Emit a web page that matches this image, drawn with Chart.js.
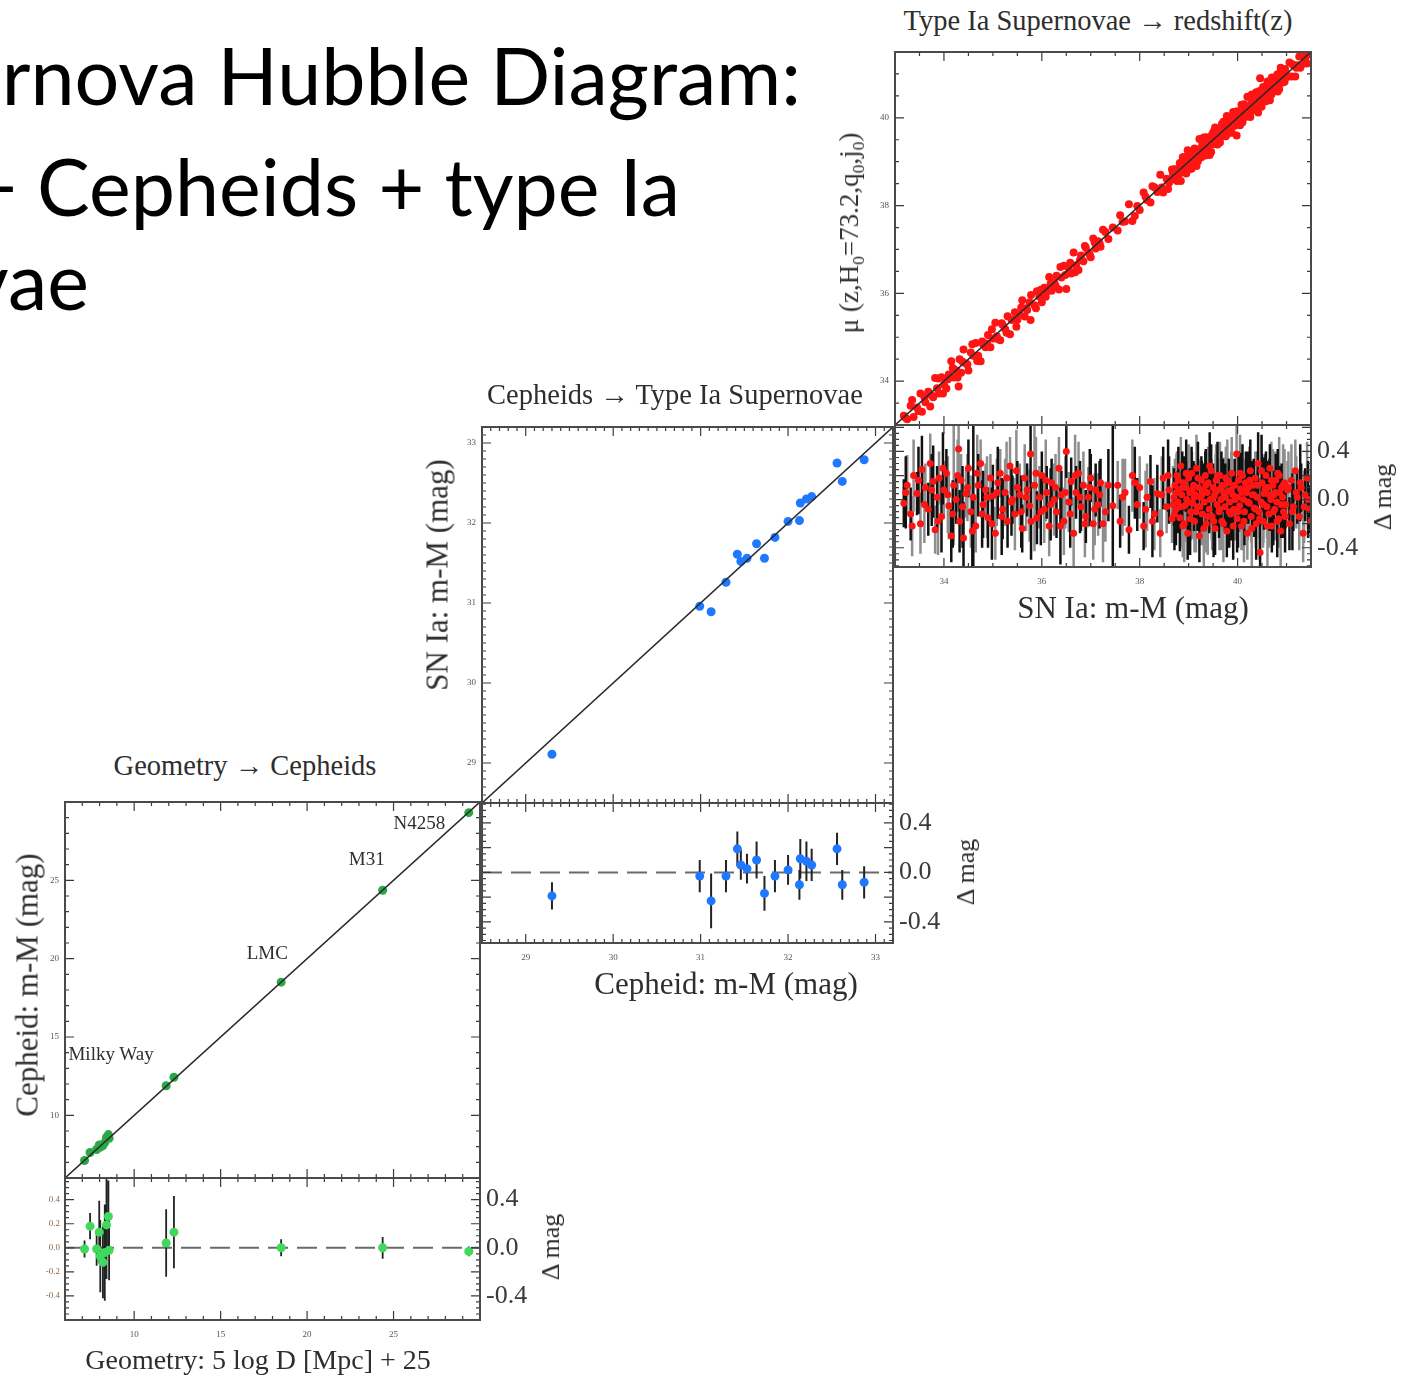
<!DOCTYPE html>
<html>
<head>
<meta charset="utf-8">
<script src="https://cdn.jsdelivr.net/npm/chart.js@4.4.0/dist/chart.umd.min.js"></script>
<style>
  html, body { margin: 0; padding: 0; background: #fff; }
  #page { position: relative; width: 1406px; height: 1376px; overflow: hidden; background: #fff; }
  .slide { position: absolute; font-family: Lato, 'Open Sans', sans-serif; font-size: 79px; color: #000; white-space: nowrap; line-height: 1; }
  .t { position: absolute; font-family: 'Liberation Serif', serif; color: #2e2e2e; white-space: nowrap; line-height: 1; transform: translate(-50%, -50%); }
  .t.rot { transform: translate(-50%, -50%) rotate(-90deg); }
  .t.left { transform: translate(0, -50%); }
  canvas { position: absolute; }
</style>
</head>
<body>
<div id="page">
  <div class="slide" style="left:-40px;top:35px;">ernova Hubble Diagram:</div>
  <div class="slide" style="left:-29px;top:146px;">+ Cepheids + type Ia</div>
  <div class="slide" style="left:-32px;top:240px;">vae</div>
</div>
<script>
// ---------- data ----------

// Type Ia supernovae: [m-M (mag), residual (mag), error (mag)]
var snPoints = [
  [33.18,-0.03,.20],[33.25,0.12,.25],[33.32,-0.12,.22],[33.38,0.20,.30],[33.45,0.05,.18],
  [33.52,-0.20,.25],[33.55,0.25,.28],[33.62,0.10,.20],[33.68,-0.08,.22],[33.72,0.30,.25],
  [33.78,0.15,.30],[33.82,-0.25,.20],[33.86,0.02,.26],[33.90,0.18,.22],[33.95,-0.14,.30],
  [34.00,0.08,.24],[34.05,0.22,.20],[34.10,-0.05,.28],[34.15,-0.30,.22],[34.20,0.12,.50],
  [34.25,0.00,.20],[34.30,0.42,.20],[34.32,-0.18,.26],[34.35,0.16,.22],[34.40,-0.32,.30],
  [34.45,0.05,.20],[34.50,0.26,.24],[34.55,-0.10,.30],[34.60,0.02,.60],[34.65,-0.22,.22],
  [34.70,0.12,.26],[34.75,0.30,.20],[34.80,-0.04,.28],[34.85,0.08,.22],[34.90,-0.15,.25],
  [34.95,0.18,.20],[35.00,0.03,.26],[35.05,-0.28,.22],[35.10,0.14,.30],[35.15,0.22,.20],
  [35.20,-0.08,.25],[35.25,0.06,.28],[35.30,-0.18,.22],[35.35,0.28,.24],[35.40,0.00,.20],
  [35.45,-0.12,.30],[35.50,0.10,.22],[35.55,0.04,.26],[35.60,-0.24,.20],[35.65,0.18,.28],
  [35.70,0.08,.22],[35.75,-0.05,.30],[35.77,0.38,.24],[35.85,0.12,.55],[35.90,-0.15,.22],
  [35.95,0.02,.26],[36.00,0.20,.20],[36.05,-0.08,.28],[36.10,0.06,.22],[36.15,-0.22,.25],
  [36.20,0.14,.20],[36.25,0.00,.30],[36.30,-0.10,.22],[36.35,0.26,.26],[36.40,0.04,.20],
  [36.45,-0.18,.28],[36.50,0.40,.22],[36.55,-0.02,.25],[36.60,0.15,.20],[36.65,-0.28,.30],
  [36.70,0.06,.22],[36.75,0.22,.26],[36.80,-0.06,.20],[36.85,0.12,.28],[36.90,-0.14,.22],
  [36.95,0.02,.25],[37.00,0.18,.20],[37.05,-0.20,.30],[37.10,0.08,.22],[37.15,-0.04,.26],
  [37.20,0.14,.20],[37.30,-0.10,.25],[37.45,-0.05,.80],[37.55,0.12,.20],[37.60,-0.18,.22],
  [37.70,0.06,.28],[37.78,-0.25,.20],[37.85,0.20,.30],[37.95,-0.04,.22],[38.00,0.10,.26],
  [38.08,-0.22,.20],[38.15,0.02,.28],[38.22,0.15,.22],[38.30,-0.12,.30],[38.36,0.05,.24],
  [38.42,-0.28,.20],[38.48,0.18,.26],[38.55,-0.06,.22],[38.60,0.08,.28],[38.66,-0.16,.20],
  [38.70,0.02,.24],[38.72,0.12,.22],[38.74,-0.08,.30],[38.76,0.20,.20],[38.78,-0.02,.26],
  [38.80,0.08,.22],[38.82,-0.15,.28],[38.84,0.28,.24],[38.86,0.04,.20],[38.88,-0.22,.26],
  [38.90,0.14,.22],[38.92,-0.05,.30],[38.94,0.10,.20],[38.96,0.00,.25],[38.98,-0.28,.22],
  [39.00,0.18,.28],[39.02,0.06,.20],[39.04,-0.10,.24],[39.06,0.22,.22],[39.08,-0.03,.30],
  [39.10,0.12,.20],[39.12,-0.18,.26],[39.14,0.04,.22],[39.16,0.26,.28],[39.18,-0.06,.20],
  [39.20,0.10,.24],[39.22,-0.30,.22],[39.24,0.02,.30],[39.26,0.16,.20],[39.28,-0.12,.26],
  [39.30,0.08,.22],[39.32,-0.02,.28],[39.34,0.20,.20],[39.36,-0.20,.24],[39.38,0.06,.22],
  [39.40,0.14,.30],[39.42,-0.08,.20],[39.44,0.00,.26],[39.46,0.24,.22],[39.48,-0.14,.28],
  [39.50,0.10,.20],[39.52,0.03,.24],[39.54,-0.24,.22],[39.56,0.16,.30],[39.58,-0.04,.20],
  [39.60,0.08,.26],[39.62,-0.10,.22],[39.64,0.20,.28],[39.66,0.00,.20],[39.68,-0.18,.24],
  [39.70,0.12,.22],[39.72,0.05,.30],[39.74,-0.06,.20],[39.76,0.18,.26],[39.78,-0.26,.22],
  [39.80,0.07,.28],[39.82,0.14,.20],[39.84,-0.02,.24],[39.86,-0.12,.22],[39.88,0.22,.30],
  [39.90,0.04,.20],[39.92,-0.08,.26],[39.94,0.12,.22],[39.98,0.38,.60],[39.99,-0.16,.28],
  [40.00,0.02,.20],[40.02,0.16,.24],[40.04,-0.05,.22],[40.06,0.09,.30],[40.08,-0.22,.20],
  [40.10,0.20,.26],[40.12,0.00,.22],[40.14,-0.10,.28],[40.16,0.14,.20],[40.18,0.06,.24],
  [40.20,-0.28,.22],[40.22,0.10,.30],[40.24,-0.03,.20],[40.26,0.24,.26],[40.28,-0.14,.22],
  [40.30,0.04,.28],[40.32,0.12,.20],[40.34,-0.07,.24],[40.36,0.18,.22],[40.38,-0.20,.30],
  [40.40,0.02,.20],[40.42,0.30,.26],[40.44,-0.10,.22],[40.46,-0.44,.32],[40.48,-0.02,.20],
  [40.50,0.14,.24],[40.52,-0.18,.22],[40.54,0.05,.30],[40.56,0.08,.28],[40.58,0.20,.20],
  [40.60,-0.06,.26],[40.62,0.10,.22],[40.64,-0.12,.28],[40.66,0.26,.20],[40.68,0.00,.24],
  [40.70,-0.22,.22],[40.72,0.12,.30],[40.74,0.04,.20],[40.76,-0.08,.26],[40.78,0.16,.22],
  [40.80,-0.02,.28],[40.82,0.22,.20],[40.84,-0.16,.24],[40.86,0.06,.22],[40.88,-0.26,.30],
  [40.90,0.10,.20],[40.92,0.02,.26],[40.94,-0.10,.22],[40.96,0.14,.28],[40.98,-0.04,.20],
  [41.02,0.08,.24],[41.06,-0.20,.22],[41.10,0.16,.30],[41.14,-0.06,.20],[41.18,0.24,.26],
  [41.22,0.02,.22],[41.26,-0.14,.28],[41.30,0.10,.20],[41.34,-0.28,.24],[41.38,0.04,.22],
  [41.42,0.18,.30],[41.46,-0.08,.20],[41.50,-0.18,.26],
  [33.22,0.06,.30],[33.35,-0.22,.25],[33.48,0.16,.28],[33.60,-0.04,.32],[33.75,0.08,.30],
  [33.88,-0.18,.28],[33.98,0.26,.30],[34.08,0.04,.32],[34.18,-0.12,.28],[34.28,0.20,.30],
  [34.38,-0.06,.34],[34.48,0.10,.28],[34.58,-0.26,.30],[34.68,0.22,.32],[34.78,-0.12,.28],
  [34.88,0.02,.34],[34.98,-0.20,.30],[35.08,0.06,.28],[35.18,-0.14,.32],[35.28,0.18,.30],
  [35.38,-0.02,.28],[35.48,0.24,.34],[35.58,-0.10,.30],[35.68,0.02,.28],[35.78,-0.18,.32],
  [35.88,0.22,.30],[35.98,-0.10,.28],[36.08,0.16,.34],[36.18,-0.04,.30],[36.28,0.10,.28],
  [36.38,-0.22,.32],[36.48,0.06,.30],[36.58,-0.12,.28],[36.68,0.20,.34],[36.78,0.02,.30],
  [36.88,-0.20,.28],[36.98,0.10,.32],[37.08,-0.08,.30],[37.18,0.04,.28],[37.25,-0.20,.32],
  [37.36,0.12,.30],[37.65,0.02,.32],[37.90,0.14,.30],[38.12,-0.08,.32],[38.26,-0.18,.30],
  [38.45,0.04,.32],[38.58,0.20,.30],[38.68,-0.04,.32],
  [38.71,-0.12,.30],[38.75,0.06,.32],[38.79,0.16,.28],[38.83,-0.06,.34],[38.87,0.10,.30],
  [38.91,-0.20,.32],[38.95,0.22,.28],[38.99,-0.02,.34],[39.03,-0.16,.30],[39.07,0.08,.32],
  [39.11,0.02,.28],[39.15,-0.10,.34],[39.19,0.18,.30],[39.23,-0.06,.32],[39.27,0.04,.28],
  [39.31,-0.24,.34],[39.35,0.12,.30],[39.39,-0.14,.32],[39.43,0.28,.28],[39.47,0.00,.34],
  [39.51,-0.18,.30],[39.55,0.06,.32],[39.59,0.20,.28],[39.63,-0.08,.34],[39.67,0.10,.30],
  [39.71,-0.20,.32],[39.75,0.02,.28],[39.79,0.16,.34],[39.83,-0.10,.30],[39.87,0.08,.32],
  [39.91,-0.22,.28],[39.95,0.00,.34],[40.01,-0.10,.30],[40.05,0.22,.32],[40.09,0.06,.28],
  [40.13,-0.18,.34],[40.17,0.10,.30],[40.21,-0.02,.32],[40.25,0.16,.28],[40.29,-0.24,.34],
  [40.33,0.04,.30],[40.37,-0.08,.32],[40.41,0.12,.28],[40.45,-0.16,.34],[40.49,0.24,.30],
  [40.53,-0.04,.32],[40.57,0.10,.28],[40.61,-0.22,.34],[40.65,0.04,.30],[40.69,0.16,.32],
  [40.73,-0.10,.28],[40.77,0.06,.34],[40.81,-0.18,.30],[40.85,0.20,.32],[40.89,-0.04,.28],
  [40.93,0.12,.34],[40.97,-0.14,.30],
  [41.04,0.10,.30],[41.12,-0.10,.32],[41.20,0.06,.30],[41.28,0.14,.32],[41.36,-0.06,.30],
  [41.44,0.00,.32]
];
var snRange = [33, 41.5];
var snTicks = [34, 36, 38, 40];

// Cepheid distances -> SN Ia distances
var cephMag   = [29.30, 30.99, 31.12, 31.29, 31.42, 31.46, 31.53, 31.64, 31.73, 31.85, 32.00, 32.13, 32.14, 32.21, 32.27, 32.56, 32.62, 32.87];
var cephDelta = [-0.19, -0.03, -0.23, -0.03, 0.19, 0.06, 0.03, 0.10, -0.17, -0.03, 0.02, -0.10, 0.11, 0.09, 0.06, 0.19, -0.10, -0.08];
var cephErr   = [0.11, 0.13, 0.22, 0.13, 0.14, 0.12, 0.12, 0.15, 0.14, 0.13, 0.12, 0.12, 0.16, 0.16, 0.13, 0.13, 0.12, 0.13];
var cephRange = [28.5, 33.2];
var cephTicks = [29, 30, 31, 32, 33];

// Geometric distances -> Cepheid distances
var geoMag   = [7.13, 7.45, 7.83, 7.98, 8.04, 8.19, 8.30, 8.40, 8.51, 8.55, 11.85, 12.30, 18.50, 24.37, 29.35];
var geoDelta = [-0.01, 0.18, -0.01, 0.13, -0.07, -0.12, -0.04, 0.19, 0.26, -0.02, 0.04, 0.13, 0.00, 0.00, -0.03];
var geoErr   = [0.07, 0.11, 0.14, 0.26, 0.30, 0.30, 0.40, 0.45, 0.30, 0.25, 0.28, 0.30, 0.07, 0.09, 0.04];
var geoRange = [6, 30];
var geoTicks = [10, 15, 20, 25];
var geoNames = ['N4258', 'M31', 'LMC', 'Milky Way'];
var geoNameX = [26.5, 23.45, 17.7, 6.2];
var geoNameY = [28.7, 26.4, 20.4, 14.0];

var residTicks = [-0.4, 0.0, 0.4];
var residTicksFine = [-0.4, -0.2, 0.0, 0.2, 0.4];
var snResidRange = [-0.56, 0.62];
var cephResidRange = [-0.57, 0.56];
var geoResidRange = [-0.6, 0.58];

// ---------- helpers ----------
var page = document.getElementById('page');
var SERIF = "'Liberation Serif', serif";

function label(html, cx, cy, size, cls) {
  var d = document.createElement('div');
  d.className = 't' + (cls ? ' ' + cls : '');
  d.style.left = cx + 'px';
  d.style.top = cy + 'px';
  d.style.fontSize = size + 'px';
  d.innerHTML = html;
  page.appendChild(d);
  return d;
}

function errorBars(xs, ys, es) {
  var out = [];
  for (var i = 0; i < xs.length; i++) {
    out.push({ x: xs[i], y: ys[i] - es[i] }, { x: xs[i], y: ys[i] + es[i] }, { x: xs[i], y: null });
  }
  return out;
}

function fixed(list) {
  return function (s) { s.ticks = list.map(function (v) { return { value: v }; }); };
}

// axis box sizes are pinned so each plot frame lands where the original has it
function pin(size, horiz) {
  return function (s) {
    if (size !== null) { if (horiz) s.height = size; else s.width = size; }
    s.paddingTop = s.paddingBottom = s.paddingLeft = s.paddingRight = 0;
  };
}

// inward ticks on all four sides plus the box
var framePlugin = {
  id: 'frame',
  afterDatasetsDraw: function (chart, args, o) {
    var ctx = chart.ctx, a = chart.chartArea, x = chart.scales.x, y = chart.scales.y;
    ctx.save();
    ctx.strokeStyle = '#3a3a3a';
    ctx.lineWidth = 1.2;
    ctx.beginPath();
    function run(scale, minor, major, horiz) {
      var n0 = Math.ceil(scale.min / minor - 1e-6), n1 = Math.floor(scale.max / minor + 1e-6);
      for (var n = n0; n <= n1; n++) {
        var v = n * minor;
        var r = v / major;
        var len = Math.abs(r - Math.round(r)) < 1e-6 ? 9 : 4;
        var p = scale.getPixelForValue(v);
        if (horiz) {
          ctx.moveTo(p, a.top); ctx.lineTo(p, a.top + len);
          ctx.moveTo(p, a.bottom); ctx.lineTo(p, a.bottom - len);
        } else {
          ctx.moveTo(a.left, p); ctx.lineTo(a.left + len, p);
          ctx.moveTo(a.right, p); ctx.lineTo(a.right - len, p);
        }
      }
    }
    run(x, o.xMinor, o.xMajor, true);
    run(y, o.yMinor, o.yMajor, false);
    ctx.stroke();
    ctx.lineWidth = 2;
    ctx.strokeStyle = '#4a4a4a';
    ctx.strokeRect(a.left, a.top, a.right - a.left, a.bottom - a.top);
    ctx.restore();
  }
};

function panel(p) {
  var c = document.createElement('canvas');
  var w = p.box[2] - p.box[0] + p.pad[0] + p.pad[2];
  var h = p.box[3] - p.box[1] + p.pad[1] + p.pad[3];
  c.width = w; c.height = h;
  c.style.width = w + 'px'; c.style.height = h + 'px';
  c.style.left = (p.box[0] - p.pad[0]) + 'px';
  c.style.top = (p.box[1] - p.pad[1]) + 'px';
  page.appendChild(c);

  var tiny = { family: SERIF, size: 9 };
  var scales = {
    x: {
      type: 'linear', min: p.xRange[0], max: p.xRange[1], display: !!p.xTicks, position: 'bottom',
      grid: { display: false, drawTicks: false }, border: { display: false },
      ticks: { font: tiny, color: '#555', padding: 9, maxRotation: 0 },
      afterBuildTicks: fixed(p.xTicks || []),
      afterFit: pin(p.xTicks ? p.pad[3] : null, true)
    },
    y: {
      type: 'linear', min: p.yRange[0], max: p.yRange[1], display: !!p.yTicks, position: 'left',
      grid: { display: false, drawTicks: false }, border: { display: false },
      ticks: { font: tiny, color: p.yColor || '#555', padding: p.yPad || 6, callback: p.yFmt },
      afterBuildTicks: fixed(p.yTicks || []),
      afterFit: pin(p.yTicks ? p.pad[0] : null, false)
    }
  };
  if (p.rTicks) {
    scales.y2 = {
      type: 'linear', min: p.yRange[0], max: p.yRange[1], position: 'right',
      grid: { display: false, drawTicks: false }, border: { display: false },
      ticks: { font: { family: SERIF, size: 26 }, color: '#3a3a3a', padding: 6,
        callback: function (v) { return v.toFixed(1); } },
      afterBuildTicks: fixed(p.rTicks),
      afterFit: pin(p.pad[2], false)
    };
  }
  return new Chart(c, {
    type: 'scatter',
    data: { datasets: p.datasets },
    options: {
      responsive: false, animation: false, devicePixelRatio: 1,
      layout: { autoPadding: false, padding: {
        left: p.yTicks ? 0 : p.pad[0], top: p.pad[1],
        right: p.rTicks ? 0 : p.pad[2], bottom: p.xTicks ? 0 : p.pad[3] } },
      plugins: { legend: { display: false }, tooltip: { enabled: false }, frame: p.frame },
      scales: scales
    },
    plugins: [framePlugin]
  });
}

function diagonal(r) {
  return { type: 'line', data: [{ x: r[0], y: r[0] }, { x: r[1], y: r[1] }],
    borderColor: '#2a2a2a', borderWidth: 1.6, pointRadius: 0 };
}
function zeroLine(r) {
  return { type: 'line', data: [{ x: r[0], y: 0 }, { x: r[1], y: 0 }],
    borderColor: '#6a6a6a', borderWidth: 2, borderDash: [20, 9], pointRadius: 0 };
}
function dots(data, color, r) {
  return { type: 'scatter', data: data, backgroundColor: color, borderColor: color,
    pointRadius: r, pointBorderWidth: 0 };
}
function bars(data, color, w) {
  return { type: 'line', data: data, borderColor: color, borderWidth: w, pointRadius: 0, spanGaps: false };
}
function fmt1(v) { return v.toFixed(1); }
function fmt0(v) { return String(v); }

// ---------- SN Ia panel ----------
var snBlack = [], snGray = [];
snPoints.forEach(function (s, i) {
  var target = i % 2 ? snGray : snBlack;
  target.push({ x: s[0], y: s[1] - s[2] }, { x: s[0], y: s[1] + s[2] }, { x: s[0], y: null });
});

panel({
  box: [895, 52, 1311, 425], pad: [40, 10, 10, 2],
  xRange: snRange, yRange: snRange, yTicks: snTicks, yFmt: fmt0,
  frame: { xMinor: 0.5, xMajor: 2, yMinor: 0.5, yMajor: 2 },
  datasets: [
    diagonal(snRange),
    dots(snPoints.map(function (s) { return { x: s[0], y: s[0] - s[1] }; }), '#ff1414', 4)
  ]
});
panel({
  box: [895, 425, 1311, 567], pad: [10, 4, 66, 30],
  xRange: snRange, yRange: snResidRange, xTicks: snTicks, rTicks: residTicks,
  frame: { xMinor: 0.5, xMajor: 2, yMinor: 0.05, yMajor: 0.2 },
  datasets: [
    dots(snPoints.map(function (s) { return { x: s[0], y: s[1] }; }), '#ff1414', 3.5),
    bars(snBlack, '#111', 2.5),
    bars(snGray, '#8e8e8e', 2.5)
  ]
});

// ---------- Cepheid panel ----------
panel({
  box: [482, 427, 893, 803], pad: [30, 6, 6, 2],
  xRange: cephRange, yRange: cephRange, yTicks: cephTicks, yFmt: fmt0,
  frame: { xMinor: 0.1, xMajor: 1, yMinor: 0.1, yMajor: 1 },
  datasets: [
    diagonal(cephRange),
    dots(cephMag.map(function (v, i) { return { x: v, y: v + cephDelta[i] }; }), '#1f78ff', 4.5)
  ]
});
panel({
  box: [482, 803, 893, 943], pad: [6, 2, 66, 30],
  xRange: cephRange, yRange: cephResidRange, xTicks: cephTicks, rTicks: residTicks,
  frame: { xMinor: 0.1, xMajor: 1, yMinor: 0.05, yMajor: 0.2 },
  datasets: [
    dots(cephMag.map(function (v, i) { return { x: v, y: cephDelta[i] }; }), '#1f78ff', 4.5),
    bars(errorBars(cephMag, cephDelta, cephErr), '#222', 2),
    zeroLine(cephRange)
  ]
});

// ---------- Geometry panel ----------
var geoMain = panel({
  box: [65, 802, 480, 1178], pad: [30, 6, 6, 2],
  xRange: geoRange, yRange: geoRange, yTicks: geoTicks, yFmt: fmt0,
  frame: { xMinor: 1, xMajor: 5, yMinor: 1, yMajor: 5 },
  datasets: [
    diagonal(geoRange),
    dots(geoMag.map(function (v, i) { return { x: v, y: v + geoDelta[i] }; }), '#2aa845', 4.5)
  ]
});
panel({
  box: [65, 1178, 480, 1320], pad: [35, 2, 66, 30],
  xRange: geoRange, yRange: geoResidRange, xTicks: geoTicks, yTicks: residTicksFine,
  yFmt: fmt1, yColor: '#8a6a50', yPad: 5, rTicks: residTicks,
  frame: { xMinor: 1, xMajor: 5, yMinor: 0.05, yMajor: 0.2 },
  datasets: [
    dots(geoMag.map(function (v, i) { return { x: v, y: geoDelta[i] }; }), '#3fd95e', 4.5),
    bars(errorBars(geoMag, geoDelta, geoErr), '#222', 1.8),
    zeroLine(geoRange)
  ]
});

// object names, anchored through the geometry panel scales
var gx = geoMain.scales.x, gy = geoMain.scales.y;
var gLeft = parseFloat(geoMain.canvas.style.left), gTop = parseFloat(geoMain.canvas.style.top);
geoNames.forEach(function (n, i) {
  label(n, gLeft + gx.getPixelForValue(geoNameX[i]), gTop + gy.getPixelForValue(geoNameY[i]), 19,
    n === 'Milky Way' ? 'left' : '');
});

// ---------- titles and axis labels ----------
label('Type Ia Supernovae &rarr; redshift(z)', 1098, 21, 28.5);
label('Cepheids &rarr; Type Ia Supernovae', 675, 395, 28.5);
label('Geometry &rarr; Cepheids', 245, 766, 28.5);

label('SN Ia: m-M (mag)', 1133, 607, 31);
label('Cepheid: m-M (mag)', 726, 983, 31);
label('Geometry: 5 log D [Mpc] + 25', 258, 1360, 28);

label('SN Ia: m-M (mag)', 437, 575, 31, 'rot');
label('Cepheid: m-M (mag)', 27, 985, 31, 'rot');
label('&mu; (z,H<sub style="font-size:65%">0</sub>=73.2,q<sub style="font-size:65%">0</sub>,j<sub style="font-size:65%">0</sub>)', 852, 233, 27, 'rot');

label('&Delta; mag', 1383, 497, 26, 'rot');
label('&Delta; mag', 966, 872, 26, 'rot');
label('&Delta; mag', 551, 1247, 26, 'rot');
</script>
</body>
</html>
